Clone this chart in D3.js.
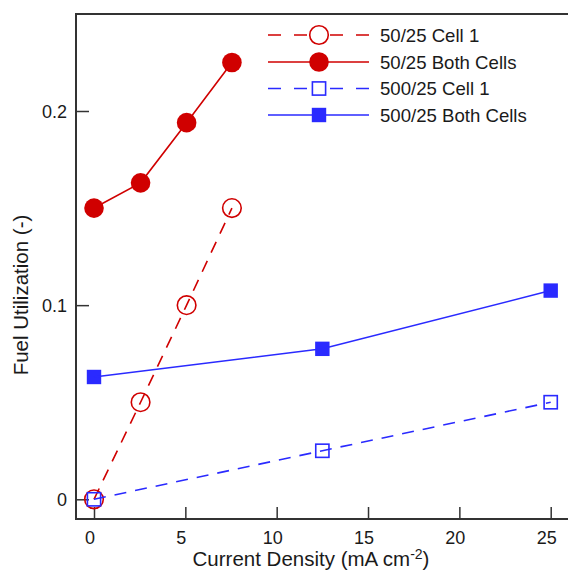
<!DOCTYPE html>
<html>
<head>
<meta charset="utf-8">
<script src="https://cdn.jsdelivr.net/npm/d3@7"></script>
<style>
  body { margin: 0; background: #fff; }
  text { font-family: "Liberation Sans", Arial, sans-serif; fill: #1a1a1a; }
</style>
</head>
<body>
<svg width="568" height="574"></svg>
<script>
// series values
var xCell50 = [0, 2.55, 5.07, 7.55];
var yCell50 = [0, 0.050, 0.100, 0.150];
var xBoth50 = [0, 2.55, 5.07, 7.55];
var yBoth50 = [0.150, 0.163, 0.194, 0.225];
var xCell500 = [0, 12.5, 25];
var yCell500 = [0, 0.025, 0.050];
var xBoth500 = [0, 12.5, 25];
var yBoth500 = [0.063, 0.0775, 0.1075];

var xTicks = [0, 5, 10, 15, 20, 25];
var yTicks = [0, 0.1, 0.2];
var legendLabels = ["50/25 Cell 1", "50/25 Both Cells", "500/25 Cell 1", "500/25 Both Cells"];

var red = "#d00000", blue = "#2a2aff";

var series = [
  { name: legendLabels[0], xs: xCell50, ys: yCell50, color: red, dash: "12,9", shape: "circle", filled: false },
  { name: legendLabels[1], xs: xBoth50, ys: yBoth50, color: red, dash: null, shape: "circle", filled: true },
  { name: legendLabels[2], xs: xCell500, ys: yCell500, color: blue, dash: "12,9", shape: "square", filled: false },
  { name: legendLabels[3], xs: xBoth500, ys: yBoth500, color: blue, dash: null, shape: "square", filled: true }
];

var svg = d3.select("svg");
var plotLeft = 76, plotTop = 14, plotBottom = 519, plotRight = 580;

var x = d3.scaleLinear().domain([0, 25]).range([94, 550.7]);
var y = d3.scaleLinear().domain([0, 0.2]).range([499.3, 111]);

// frame (right side runs off the picture)
svg.append("path")
    .attr("d", "M" + plotRight + "," + plotTop + "H" + plotLeft + "V" + plotBottom + "H" + plotRight)
    .attr("fill", "none")
    .attr("stroke", "#333")
    .attr("stroke-width", 2);

// inward ticks
var xAxis = d3.axisTop(x).tickValues(xTicks).tickSize(12).tickFormat("");
svg.append("g")
    .attr("transform", "translate(0," + plotBottom + ")")
    .call(xAxis)
    .call(function(g) { g.select(".domain").remove(); })
    .selectAll("line").attr("stroke", "#333").attr("stroke-width", 1.5);

var yAxis = d3.axisRight(y).tickValues(yTicks).tickSize(13).tickFormat("");
svg.append("g")
    .attr("transform", "translate(" + plotLeft + ",0)")
    .call(yAxis)
    .call(function(g) { g.select(".domain").remove(); })
    .selectAll("line").attr("stroke", "#333").attr("stroke-width", 1.5);

// tick labels
svg.append("g").selectAll("text")
    .data(xTicks)
    .enter().append("text")
      .attr("x", function(d) { return x(d) - 4; })
      .attr("y", 544)
      .attr("text-anchor", "middle")
      .attr("font-size", 18)
      .text(function(d) { return d; });

svg.append("g").selectAll("text")
    .data(yTicks)
    .enter().append("text")
      .attr("x", 67)
      .attr("y", function(d) { return y(d) + 7; })
      .attr("text-anchor", "end")
      .attr("font-size", 18)
      .text(function(d) { return d; });

// axis titles
var xt = svg.append("text")
    .attr("x", 311)
    .attr("y", 566)
    .attr("text-anchor", "middle")
    .attr("font-size", 20.5);
xt.append("tspan").text("Current Density (mA cm");
xt.append("tspan").attr("dy", -7).attr("font-size", 14).text("-2");
xt.append("tspan").attr("dy", 7).text(")");

svg.append("text")
    .attr("transform", "translate(28,295) rotate(-90)")
    .attr("text-anchor", "middle")
    .attr("font-size", 20.5)
    .text("Fuel Utilization (-)");

function drawMarker(g, s, cx, cy) {
  if (s.shape === "circle") {
    g.append("circle")
        .attr("cx", cx).attr("cy", cy)
        .attr("r", s.filled ? 9.8 : 9.3)
        .attr("fill", s.filled ? s.color : "none")
        .attr("stroke", s.color)
        .attr("stroke-width", s.filled ? 0 : 1.6);
  } else {
    var h = s.filled ? 7.2 : 6.6;
    g.append("rect")
        .attr("x", cx - h).attr("y", cy - h)
        .attr("width", 2 * h).attr("height", 2 * h)
        .attr("fill", s.filled ? s.color : "none")
        .attr("stroke", s.color)
        .attr("stroke-width", s.filled ? 0 : 1.6);
  }
}

var line = d3.line()
    .x(function(d) { return x(d[0]); })
    .y(function(d) { return y(d[1]); });

series.forEach(function(s) {
  var pts = s.xs.map(function(v, i) { return [v, s.ys[i]]; });
  var g = svg.append("g");
  pts.forEach(function(p) { drawMarker(g, s, x(p[0]), y(p[1])); });
  g.append("path")
      .datum(pts)
      .attr("d", line)
      .attr("fill", "none")
      .attr("stroke", s.color)
      .attr("stroke-width", 1.6)
      .attr("stroke-dasharray", s.dash);
});

// legend
var legY = [35, 62, 88.5, 115];
series.forEach(function(s, i) {
  var g = svg.append("g");
  var ly = legY[i];
  if (s.dash) {
    g.append("line").attr("x1", 268).attr("x2", 319).attr("y1", ly).attr("y2", ly)
        .attr("stroke", s.color).attr("stroke-width", 1.6).attr("stroke-dasharray", "13,13");
    g.append("line").attr("x1", 369).attr("x2", 319).attr("y1", ly).attr("y2", ly)
        .attr("stroke", s.color).attr("stroke-width", 1.6).attr("stroke-dasharray", "13,13");
  } else {
    g.append("line").attr("x1", 268).attr("x2", 369).attr("y1", ly).attr("y2", ly)
        .attr("stroke", s.color).attr("stroke-width", 1.6);
  }
  drawMarker(g, s, 319, ly);
  g.append("text")
      .attr("x", 380)
      .attr("y", ly + 6.5)
      .attr("font-size", 18.6)
      .text(s.name);
});
</script>
</body>
</html>
